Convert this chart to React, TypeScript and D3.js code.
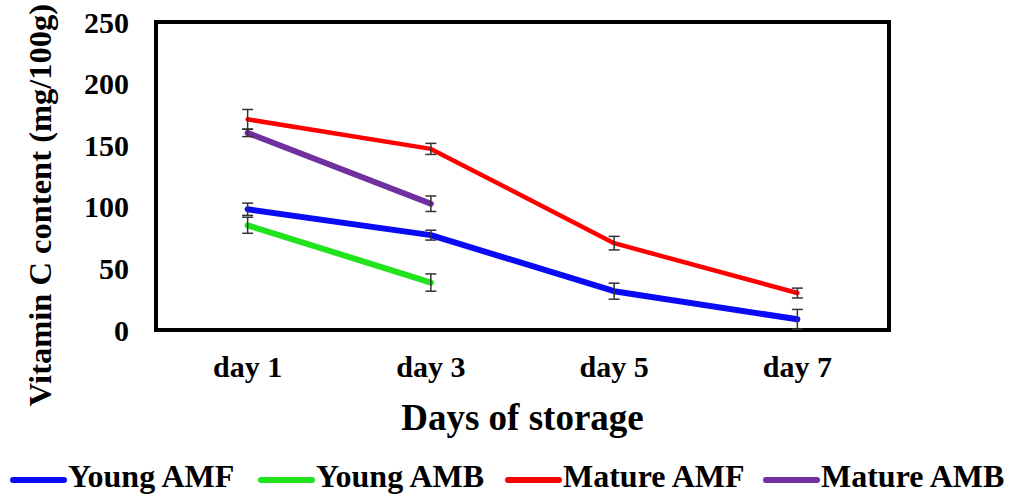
import { useEffect, useRef } from "react";
import * as d3 from "d3";

// chart data
const days = ["day 1", "day 3", "day 5", "day 7"];
const seriesNames = ["Young AMF", "Young AMB", "Mature AMF", "Mature AMB"];
const seriesColors = ["#0A0AF5", "#22E41E", "#FF0000", "#7030A0"];
const youngAMF = [98, 77, 31.5, 8.7];
const youngAMBvals = [85, 38.5];
const matureAMF = [171, 147, 70.5, 30];
const matureAMBvals = [160, 102.5];
const youngAMFerr = [5, 4, 6.5, 8];
const youngAMBerr = [6.5, 7];
const matureAMFerr = [8, 4.5, 5.5, 4];
const matureAMBerr = [3, 6.3];
const yTicks = [0, 50, 100, 150, 200, 250];

const font = "'Liberation Serif', 'Times New Roman', serif";

function App() {
  const ref = useRef<SVGSVGElement>(null);

  const width = 1012;
  const height = 495;
  const margin = { top: 22, right: 123, bottom: 165, left: 156 };

  useEffect(() => {
    const svg = d3.select(ref.current);
    svg.selectAll("*").remove();

    const x = d3.scaleBand()
      .domain(days)
      .range([margin.left, width - margin.right]);

    const y = d3.scaleLinear()
      .domain([0, 250])
      .range([height - margin.bottom, margin.top]);

    const series = [
      { name: seriesNames[0], values: youngAMF, err: youngAMFerr, width: 6 },
      { name: seriesNames[1], values: youngAMBvals, err: youngAMBerr, width: 6 },
      { name: seriesNames[2], values: matureAMF, err: matureAMFerr, width: 4.5 },
      { name: seriesNames[3], values: matureAMBvals, err: matureAMBerr, width: 6 },
    ];
    const color = d3.scaleOrdinal<string, string>().domain(seriesNames).range(seriesColors);
    const cx = (i: number) => (x(days[i]) as number) + x.bandwidth() / 2;

    // plot box
    svg.append("rect")
      .attr("x", margin.left)
      .attr("y", margin.top)
      .attr("width", width - margin.left - margin.right)
      .attr("height", height - margin.top - margin.bottom)
      .attr("fill", "none")
      .attr("stroke", "#000")
      .attr("stroke-width", 4);

    // y tick labels
    svg.append("g")
      .selectAll("text")
      .data(yTicks)
      .enter()
      .append("text")
      .attr("x", 129)
      .attr("y", d => y(d))
      .attr("dy", "0.35em")
      .attr("text-anchor", "end")
      .style("font-family", font)
      .style("font-weight", "bold")
      .style("font-size", "30px")
      .text(d => d);

    // x tick labels
    svg.append("g")
      .selectAll("text")
      .data(days)
      .enter()
      .append("text")
      .attr("x", (d, i) => cx(i))
      .attr("y", 377)
      .attr("text-anchor", "middle")
      .style("font-family", font)
      .style("font-weight", "bold")
      .style("font-size", "30px")
      .text(d => d);

    // axis titles
    svg.append("text")
      .attr("x", (margin.left + width - margin.right) / 2)
      .attr("y", 430)
      .attr("text-anchor", "middle")
      .style("font-family", font)
      .style("font-weight", "bold")
      .style("font-size", "37px")
      .text("Days of storage");

    svg.append("text")
      .attr("transform", "translate(51, 205) rotate(-90)")
      .attr("text-anchor", "middle")
      .style("font-family", font)
      .style("font-weight", "bold")
      .style("font-size", "32.5px")
      .text("Vitamin C content (mg/100g)");

    // lines
    const line = d3.line<number>()
      .x((d, i) => cx(i))
      .y(d => y(d));

    svg.append("g")
      .selectAll("path")
      .data(series)
      .enter()
      .append("path")
      .attr("d", d => line(d.values))
      .attr("fill", "none")
      .attr("stroke", d => color(d.name))
      .attr("stroke-width", d => d.width)
      .attr("stroke-linecap", "round")
      .attr("stroke-linejoin", "round");

    // error bars
    const bars = series.flatMap(s =>
      s.values.map((v, i) => ({ i, lo: v - s.err[i], hi: v + s.err[i] }))
    );
    const eb = svg.append("g")
      .attr("stroke", "#333")
      .attr("stroke-width", 1.5);
    const g = eb.selectAll("g").data(bars).enter().append("g");
    g.append("line")
      .attr("x1", d => cx(d.i)).attr("x2", d => cx(d.i))
      .attr("y1", d => y(d.lo)).attr("y2", d => y(d.hi));
    g.append("line")
      .attr("x1", d => cx(d.i) - 5.5).attr("x2", d => cx(d.i) + 5.5)
      .attr("y1", d => y(d.lo)).attr("y2", d => y(d.lo));
    g.append("line")
      .attr("x1", d => cx(d.i) - 5.5).attr("x2", d => cx(d.i) + 5.5)
      .attr("y1", d => y(d.hi)).attr("y2", d => y(d.hi));

    // legend
    const legendX = [10, 258, 505, 763];
    const lg = svg.append("g")
      .selectAll("g")
      .data(series)
      .enter()
      .append("g")
      .attr("transform", (d, i) => `translate(${legendX[i]}, 480)`);
    lg.append("line")
      .attr("x1", 3).attr("x2", 54)
      .attr("y1", 0).attr("y2", 0)
      .attr("stroke", d => color(d.name))
      .attr("stroke-width", 6)
      .attr("stroke-linecap", "round");
    lg.append("text")
      .attr("x", 58)
      .attr("y", 7)
      .style("font-family", font)
      .style("font-weight", "bold")
      .style("font-size", "32px")
      .text(d => d.name);
  }, []);

  return (
    <div id="container">
      <svg
        ref={ref}
        width={width}
        height={height}
        style={{ position: "absolute", left: 0, top: 0, background: "#fff" }}
      ></svg>
    </div>
  );
}

export default App;
